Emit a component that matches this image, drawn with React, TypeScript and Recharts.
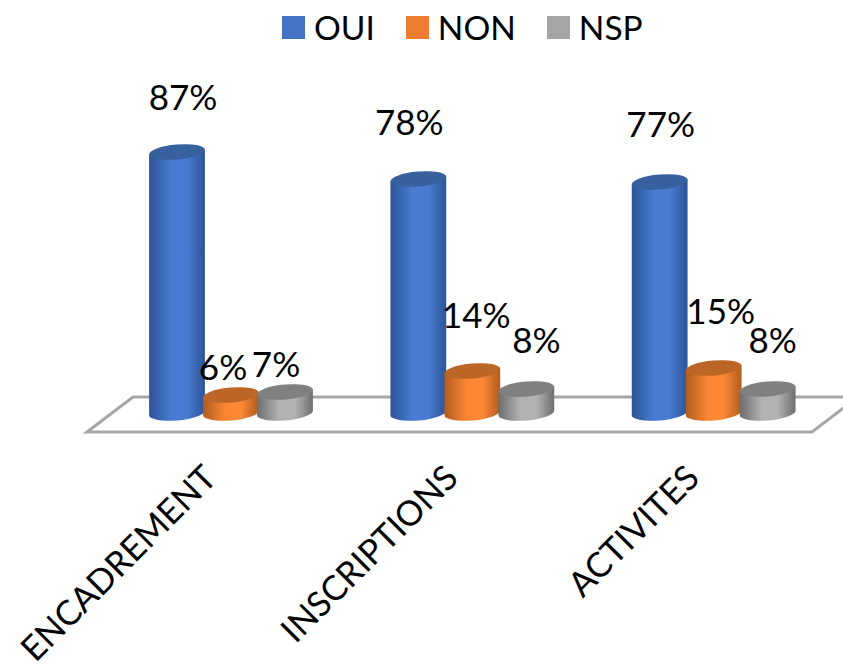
import { Bar, BarChart, LabelList, Legend, XAxis, YAxis, usePlotArea } from "recharts";

const categories = ["ENCADREMENT", "INSCRIPTIONS", "ACTIVITES"];
const oui = [87, 78, 77];
const non = [6, 14, 15];
const nsp = [7, 8, 8];

const data = categories.map((name, i) => ({ name, OUI: oui[i], NON: non[i], NSP: nsp[i] }));

const FONT = "Lato, 'Open Sans', sans-serif";

// label placement is hand tuned per bar, the original was placed by hand too
const labelNudge: Record<string, [number, number][]> = {
  OUI: [[6, -42], [-9, -44], [1, -45]],
  NON: [[-8, -15], [4, -43], [7, -44]],
  NSP: [[-9, -15], [10, -36], [5, -36]]
};

const shades: Record<string, { edge: string; mid: string; top: string }> = {
  OUI: { edge: "#2c5496", mid: "#4a7bd2", top: "#37609f" },
  NON: { edge: "#b05c1e", mid: "#fc8734", top: "#bb6526" },
  NSP: { edge: "#6e6e6e", mid: "#b2b2b2", top: "#808080" }
};

const TILT = 5;
const RY = 7.5;

function Cylinder(props: any) {
  const { x, y, width, height, dataKey } = props;
  const rx = width / 2;
  const cx = x + rx;
  const bottom = y + height;
  const t = rx * Math.sin((TILT * Math.PI) / 180);
  const c = rx * Math.cos((TILT * Math.PI) / 180);
  const body = `M${cx - c},${y + t} L${cx - c},${bottom + t} A${rx},${RY} ${-TILT} 0 0 ${cx + c},${bottom - t} L${cx + c},${y - t} Z`;
  return (
    <g>
      <path d={body} fill={`url(#cyl-${dataKey})`} />
      <ellipse cx={cx} cy={y} rx={rx} ry={RY} fill={shades[dataKey].top} transform={`rotate(${-TILT} ${cx} ${y})`} />
    </g>
  );
}

// the 3d floor the bars stand on, follows the plot area
function Floor() {
  const plot = usePlotArea();
  if (!plot) return null;
  const left = plot.x;
  const right = plot.x + plot.width;
  const base = plot.y + plot.height;
  const points = [
    [left - 23, base + 19],
    [left + 23, base - 16],
    [right + 24, base - 16],
    [right - 22, base + 19]
  ]
    .map((p) => p.join(","))
    .join(" ");
  return <polygon points={points} fill="#fff" stroke="#a6a6a6" strokeWidth={3} />;
}

function CategoryTick({ x, y, payload }: any) {
  return (
    <text
      x={x - 12}
      y={y + 59}
      textAnchor="end"
      fontFamily={FONT}
      fontSize={34.5}
      fill="#000"
      transform={`rotate(-45 ${x - 12} ${y + 59})`}
    >
      {payload.value}
    </text>
  );
}

function valueLabel(key: string) {
  return (props: any) => {
    const { x, y, width, value, index } = props;
    const [dx, dy] = labelNudge[key][index];
    return (
      <text x={x + width / 2 + dx} y={y + dy} textAnchor="middle" fontFamily={FONT} fontSize={35} fill="#000">
        {value}%
      </text>
    );
  };
}

function LegendRow({ payload }: any) {
  return (
    <div style={{ display: "flex", fontFamily: FONT, fontSize: 33.5, lineHeight: "46px", color: "#000" }}>
      {(payload || []).map((p: any) => (
        <div key={p.value} style={{ display: "flex", alignItems: "center", marginRight: 31 }}>
          <span style={{ width: 23, height: 23, background: p.color, marginRight: 9 }} />
          {p.value}
        </div>
      ))}
    </div>
  );
}

export default function App() {
  return (
    <div style={{ position: "absolute", left: 0, top: 0, width: 843, height: 664, overflow: "hidden", background: "#fff" }}>
      <BarChart
        width={843}
        height={664}
        data={data}
        margin={{ top: 67, right: 9, bottom: 0, left: 110 }}
        barSize={56}
        barGap={-2}
      >
        <defs>
          {Object.keys(shades).map((k) => (
            <linearGradient key={k} id={`cyl-${k}`} x1="0" y1="0" x2="1" y2="0">
              <stop offset="0" stopColor={shades[k].edge} />
              <stop offset="0.4" stopColor={shades[k].mid} />
              <stop offset="0.68" stopColor={shades[k].mid} />
              <stop offset="1" stopColor={shades[k].edge} />
            </linearGradient>
          ))}
        </defs>
        <Floor />
        <XAxis dataKey="name" axisLine={false} tickLine={false} interval={0} tick={<CategoryTick />} height={251} />
        <YAxis hide domain={[0, 100]} />
        <Legend
          verticalAlign="top"
          itemSorter={null}
          content={<LegendRow />}
          wrapperStyle={{ position: "absolute", top: 4, left: 282, width: 520 }}
        />
        <Bar dataKey="OUI" name="OUI" fill="#4472c4" shape={<Cylinder />} isAnimationActive={false}>
          <LabelList dataKey="OUI" content={valueLabel("OUI")} />
        </Bar>
        <Bar dataKey="NON" name="NON" fill="#ed7d31" shape={<Cylinder />} isAnimationActive={false}>
          <LabelList dataKey="NON" content={valueLabel("NON")} />
        </Bar>
        <Bar dataKey="NSP" name="NSP" fill="#a5a5a5" shape={<Cylinder />} isAnimationActive={false}>
          <LabelList dataKey="NSP" content={valueLabel("NSP")} />
        </Bar>
      </BarChart>
    </div>
  );
}
